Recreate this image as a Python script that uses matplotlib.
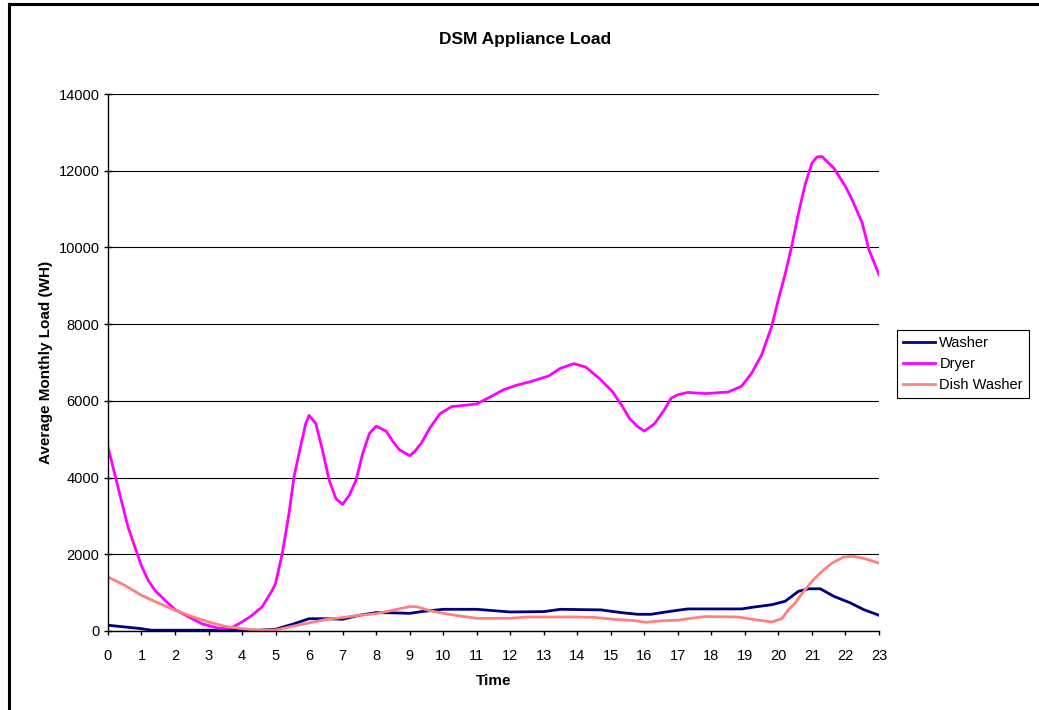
import matplotlib
matplotlib.use('Agg')
import matplotlib.pyplot as plt
from matplotlib.lines import Line2D

plt.rcParams['font.family'] = ['Liberation Sans', 'DejaVu Sans']

# Werte (Zeit in Stunden, Last in WH)
washer_t = [0, 0.5, 1.0, 1.3, 4.5, 5.0, 5.5, 6.0, 6.5, 7.0, 7.5, 8.0, 8.6, 9.0, 9.4,
            10.0, 11.0, 11.5, 12.0, 13.0, 13.5, 14.7, 15.3, 15.8, 16.2, 16.6, 17.0,
            17.3, 18.9, 19.2, 19.8, 20.2, 20.6, 20.9, 21.25, 21.65, 22.15, 22.55, 23.0]
washer = [150, 105, 60, 20, 20, 45, 175, 320, 320, 305, 410, 480, 470, 460, 510,
          565, 565, 530, 495, 505, 565, 550, 480, 435, 435, 490, 540,
          575, 575, 615, 685, 775, 1035, 1100, 1100, 905, 730, 555, 410]

dryer_t = [0, 0.37, 0.6, 0.87, 1.0, 1.2, 1.4, 1.7, 2.0, 2.4, 2.8, 3.3, 3.7, 4.0, 4.3,
           4.6, 4.9, 5.0, 5.2, 5.4, 5.55, 5.7, 5.9, 6.0, 6.2, 6.4, 6.6, 6.8, 7.0, 7.2,
           7.4, 7.6, 7.8, 8.0, 8.3, 8.5, 8.7, 9.0, 9.15, 9.35, 9.6, 9.9, 10.25, 10.7,
           11.0, 11.4, 11.8, 12.2, 12.6, 13.15, 13.5, 13.9, 14.25, 14.65, 15.05, 15.35,
           15.55, 15.8, 16.0, 16.3, 16.6, 16.8, 17.0, 17.3, 17.8, 18.0, 18.5, 18.9,
           19.2, 19.5, 19.8, 20.0, 20.2, 20.4, 20.6, 20.8, 21.0, 21.15, 21.3, 21.65,
           22.0, 22.2, 22.5, 22.7, 23.0]
dryer = [4800, 3500, 2710, 2020, 1700, 1320, 1060, 800, 560, 370, 190, 70, 90, 235, 410,
         630, 1060, 1240, 2020, 3060, 4020, 4630, 5410, 5620, 5410, 4710, 3930, 3450, 3300, 3540,
         3930, 4630, 5150, 5340, 5210, 4940, 4720, 4570, 4680, 4900, 5290, 5660, 5850, 5890,
         5920, 6100, 6290, 6410, 6500, 6650, 6850, 6970, 6880, 6590, 6240, 5850,
         5550, 5330, 5210, 5400, 5770, 6070, 6160, 6220, 6190, 6200, 6230, 6380,
         6720, 7200, 7940, 8650, 9300, 10050, 10900, 11650, 12200, 12360, 12370, 12070,
         11590, 11240, 10640, 9940, 9290]

dish_t = [0, 0.5, 1.0, 1.5, 2.0, 2.5, 3.0, 3.5, 4.0, 4.5, 5.0, 5.5, 6.0, 6.5, 7.0, 7.5,
          8.0, 8.6, 9.0, 9.2, 9.6, 10.0, 10.5, 11.0, 12.0, 12.5, 14.0, 14.5, 15.1, 15.7,
          16.05, 16.5, 17.0, 17.3, 17.8, 18.8, 19.3, 19.8, 20.1, 20.3, 20.5, 20.7, 21.0,
          21.3, 21.6, 21.95, 22.25, 22.6, 23.0]
dish = [1410, 1190, 930, 730, 540, 380, 235, 120, 60, 20, 25, 120, 210, 300, 350, 410,
        450, 560, 635, 635, 530, 460, 390, 330, 330, 365, 365, 355, 305, 270,
        225, 265, 280, 320, 375, 365, 295, 235, 320, 555, 730, 970, 1295,
        1555, 1770, 1930, 1945, 1880, 1770]

hours = list(range(0, 24))
y_ticks = [0, 2000, 4000, 6000, 8000, 10000, 12000, 14000]

fig = plt.figure(figsize=(10.39, 7.10), dpi=100)
ax = fig.add_axes([0.1039, 0.1113, 0.846 - 0.1039, 0.8676 - 0.1113])

ax.plot(washer_t, washer, color='#000080', linewidth=2.0, label='Washer')
ax.plot(dryer_t, dryer, color='#FF00FF', linewidth=2.0, label='Dryer')
ax.plot(dish_t, dish, color='#FF8080', linewidth=2.0, label='Dish Washer')

ax.set_xlim(0, 23)
ax.set_ylim(0, 14000)
ax.set_xticks(hours)
ax.set_yticks(y_ticks)
ax.grid(axis='y', color='black', linewidth=0.8)
ax.set_axisbelow(True)

for s in ['top', 'right']:
    ax.spines[s].set_visible(False)
for s in ['left', 'bottom']:
    ax.spines[s].set_linewidth(1.0)

ax.tick_params(axis='y', direction='inout', length=6, width=1, labelsize=10.5, pad=3)
ax.tick_params(axis='x', direction='out', length=3, width=1, labelsize=10.5, pad=10)

ax.set_xlabel('Time', fontsize=11, fontweight='bold', labelpad=8)
ax.set_ylabel('Average Monthly Load (WH)', fontsize=11, fontweight='bold', labelpad=4)

fig.text(0.505, 0.944, 'DSM Appliance Load', ha='center', va='center',
         fontsize=12.5, fontweight='bold')

leg = fig.legend(loc='upper left', bbox_to_anchor=(0.8633, 0.5352), borderaxespad=0,
                 fontsize=10.5, fancybox=False, framealpha=1, edgecolor='black',
                 handlelength=2.2, handletextpad=0.3)
leg.get_frame().set_linewidth(0.8)

# Rahmen des Diagrammbereichs (nur links und oben sichtbar)
fig.add_artist(Line2D([0.0082, 0.0082], [0.0, 0.9937], color='black', linewidth=2.2))
fig.add_artist(Line2D([0.0082, 1.0], [0.9937, 0.9937], color='black', linewidth=2.2))

plt.savefig('out.png', dpi=100)
plt.close()
